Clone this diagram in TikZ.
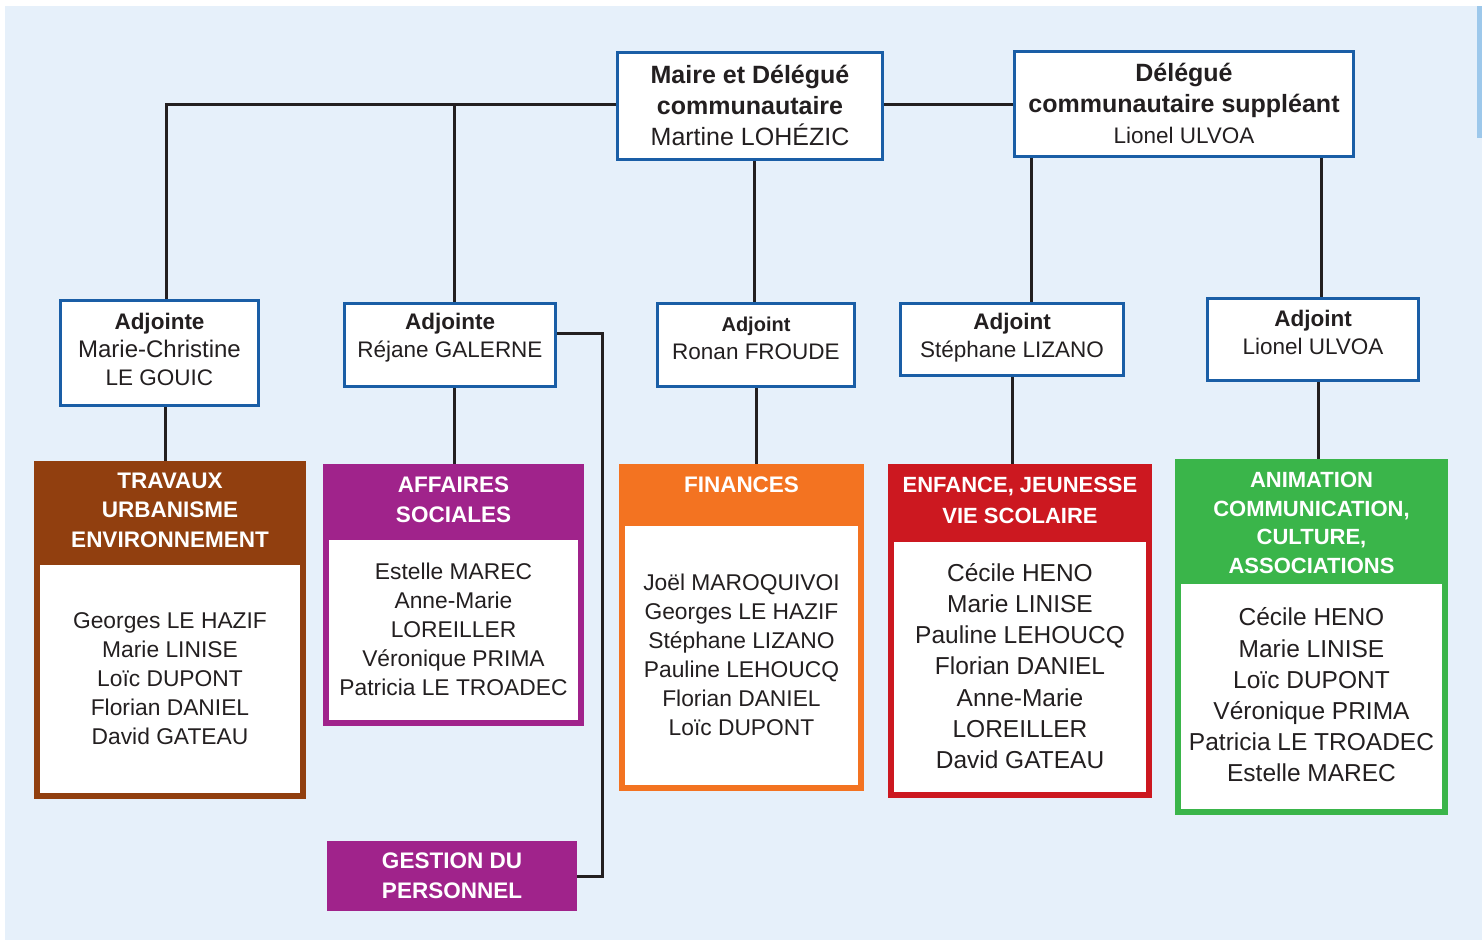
\documentclass[tikz,border=0pt]{standalone}
\usepackage{fontspec}
\setmainfont{Liberation Sans}
\definecolor{bgc}{RGB}{230,240,250}
\definecolor{stripc}{RGB}{157,200,235}
\definecolor{bluec}{RGB}{26,94,166}
\definecolor{ink}{RGB}{35,31,32}
\definecolor{brownc}{RGB}{145,63,15}
\definecolor{purplec}{RGB}{160,35,139}
\definecolor{orangec}{RGB}{243,115,33}
\definecolor{redc}{RGB}{204,24,32}
\definecolor{greenc}{RGB}{58,181,74}
\begin{document}
\begin{tikzpicture}[x=1pt,y=-1pt,
  conn/.style={draw=ink, line width=3pt},
  bluebox/.style={rectangle, draw=bluec, line width=3pt, fill=white, inner sep=0pt},
  dept/.style={rectangle, inner sep=0pt},
  toptxt/.style={text=ink, align=center, font=\fontsize{25}{31}\selectfont, inner sep=0pt},
  adjtxt/.style={text=ink, align=center, font=\fontsize{22.5}{28}\selectfont, inner sep=0pt},
  hdr/.style={text=white, align=center, font=\bfseries\fontsize{22.5}{29.5}\selectfont, inner sep=0pt},
  body/.style={text=ink, align=center, font=\fontsize{22.8}{29}\selectfont, inner sep=0pt},
  bigbody/.style={text=ink, align=center, font=\fontsize{24.5}{31.2}\selectfont, inner sep=0pt}
]
\useasboundingbox (0,0) rectangle (1482,940);
\fill[white] (0,0) rectangle (1482,940);
\fill[bgc] (5,6) rectangle (1482,940);
\fill[stripc] (1477,6) rectangle (1482,138);

% top boxes
\node[bluebox, minimum width=265pt, minimum height=107pt] (maire) at (750,106) {};
\node[bluebox, minimum width=339pt, minimum height=105pt] (del) at (1184,104) {};
\node[toptxt] (maireT) at (750,105) {\textbf{Maire et Délégué}\\\textbf{communautaire}\\Martine LOHÉZIC};
\node[toptxt] (delT) at (1184,103.5) {\textbf{Délégué}\\\textbf{communautaire suppléant}\\{\fontsize{22.5}{30}\selectfont Lionel ULVOA}};

% adjoint boxes
\node[bluebox, minimum width=198pt, minimum height=105pt] (mc) at (159.5,353) {};
\node[bluebox, minimum width=211pt, minimum height=83pt] (rej) at (450,345) {};
\node[bluebox, minimum width=197pt, minimum height=83pt] (ron) at (756,345) {};
\node[bluebox, minimum width=223pt, minimum height=72pt] (steph) at (1012,339.5) {};
\node[bluebox, minimum width=211pt, minimum height=82pt] (lio) at (1313,339.5) {};
\node[adjtxt] (mcT) at (159.5,349) {\textbf{Adjointe}\\{\fontsize{24}{28}\selectfont Marie-Christine}\\LE GOUIC};
\node[adjtxt] (rejT) at (450,338) {\textbf{Adjointe}\\Réjane GALERNE};
\node[adjtxt] (ronT) at (756,338.5) {{\bfseries\fontsize{20}{28}\selectfont Adjoint}\\Ronan FROUDE};
\node[adjtxt] (stephT) at (1012,338) {\textbf{Adjoint}\\Stéphane LIZANO};
\node[adjtxt] (lioT) at (1313,332) {\textbf{Adjoint}\\Lionel ULVOA};

% department boxes
\node[dept, fill=brownc, minimum width=272pt, minimum height=338pt] (trav) at (170,630) {};
\fill[white] ([xshift=6pt,yshift=-104pt]trav.north west) rectangle ([xshift=-6pt,yshift=6pt]trav.south east);
\node[dept, fill=purplec, minimum width=261pt, minimum height=262pt] (aff) at (453.5,595) {};
\fill[white] ([xshift=6pt,yshift=-76pt]aff.north west) rectangle ([xshift=-6pt,yshift=6pt]aff.south east);
\node[dept, fill=orangec, minimum width=245pt, minimum height=327pt] (fin) at (741.5,627.5) {};
\fill[white] ([xshift=6pt,yshift=-62pt]fin.north west) rectangle ([xshift=-6pt,yshift=6pt]fin.south east);
\node[dept, fill=redc, minimum width=264pt, minimum height=334pt] (enf) at (1020,631) {};
\fill[white] ([xshift=6pt,yshift=-78pt]enf.north west) rectangle ([xshift=-6pt,yshift=6pt]enf.south east);
\node[dept, fill=greenc, minimum width=273pt, minimum height=356pt] (anim) at (1311.5,637) {};
\fill[white] ([xshift=6pt,yshift=-125pt]anim.north west) rectangle ([xshift=-6pt,yshift=6pt]anim.south east);
\node[dept, fill=purplec, minimum width=250pt, minimum height=70pt] (gest) at (452,876) {};

\node[hdr] (travH) at (170,510) {TRAVAUX\\URBANISME\\ENVIRONNEMENT};
\node[hdr] (affH) at (453.5,499.5) {AFFAIRES\\SOCIALES};
\node[hdr] (finH) at (741.5,485) {FINANCES};
\node[hdr, font=\bfseries\fontsize{22}{31}\selectfont] (enfH) at (1020,500.5) {ENFANCE, JEUNESSE\\VIE SCOLAIRE};
\node[hdr, font=\bfseries\fontsize{22}{28.7}\selectfont] (animH) at (1311.5,523) {ANIMATION\\COMMUNICATION,\\CULTURE,\\ASSOCIATIONS};
\node[hdr] (gestH) at (452,875.5) {GESTION DU\\PERSONNEL};

\node[body] (travB) at (170,679) {Georges LE HAZIF\\Marie LINISE\\Loïc DUPONT\\Florian DANIEL\\David GATEAU};
\node[body] (affB) at (453.5,629) {Estelle MAREC\\Anne-Marie\\LOREILLER\\Véronique PRIMA\\Patricia LE TROADEC};
\node[body] (finB) at (741.5,655) {Joël MAROQUIVOI\\Georges LE HAZIF\\Stéphane LIZANO\\Pauline LEHOUCQ\\Florian DANIEL\\Loïc DUPONT};
\node[bigbody] (enfB) at (1020,666) {Cécile HENO\\Marie LINISE\\Pauline LEHOUCQ\\Florian DANIEL\\Anne-Marie\\LOREILLER\\David GATEAU};
\node[bigbody] (animB) at (1311.5,695) {Cécile HENO\\Marie LINISE\\Loïc DUPONT\\Véronique PRIMA\\Patricia LE TROADEC\\Estelle MAREC};

% connectors
\coordinate (topline) at ([yshift=2pt]maire.west);
\draw[conn] (topline) -| ([xshift=6.5pt]mc.north);
\draw[conn] ([yshift=2pt]maire.east) -- (del.west);
\draw[conn] ([xshift=4pt]rej.north) -- ([xshift=4pt]rej.north |- topline);
\draw[conn] ([xshift=4pt]maire.south) -- ([xshift=4pt]maire.south |- ron.north);
\draw[conn] ([xshift=-153pt]del.south) -- ([xshift=-153pt]del.south |- steph.north);
\draw[conn] ([xshift=137pt]del.south) -- ([xshift=137pt]del.south |- lio.north);
\draw[conn] ([xshift=5.5pt]mc.south) -- ([xshift=5.5pt]mc.south |- trav.north);
\draw[conn] ([xshift=4pt]rej.south) -- ([xshift=4pt]rej.south |- aff.north);
\draw[conn] (ron.south) -- (ron.south |- fin.north);
\draw[conn] (steph.south) -- (steph.south |- enf.north);
\draw[conn] ([xshift=5pt]lio.south) -- ([xshift=5pt]lio.south |- anim.north);
\draw[conn] ([yshift=12pt]rej.east) -- ++(45,0) |- (gest.east);
\end{tikzpicture}
\end{document}
